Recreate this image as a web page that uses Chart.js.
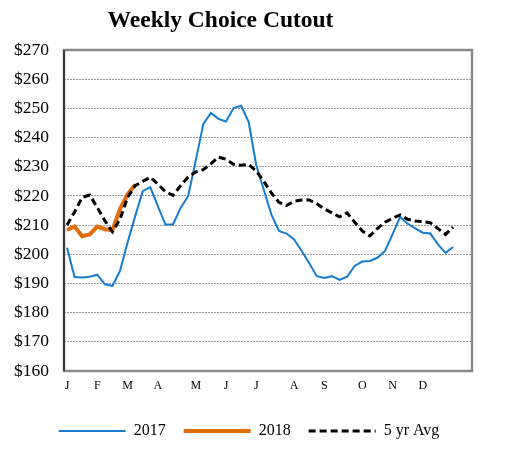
<!DOCTYPE html>
<html>
<head>
<meta charset="utf-8">
<script src="https://cdn.jsdelivr.net/npm/chart.js@4/dist/chart.umd.min.js"></script>
<style>
  body { margin: 0; background: #fff; }
  #wrap { position: relative; width: 507px; height: 455px; }
  #title {
    position: absolute; top: 8px; left: 0; width: 441px;
    text-align: center; font: bold 23.5px "Liberation Serif", serif; line-height: 1;
    color: #000;
  }
</style>
</head>
<body>
<div id="wrap">
  <canvas id="cutout" width="507" height="455"></canvas>
  <div id="title">Weekly Choice Cutout</div>
</div>
<script>
const monthLabels = ["J", "F", "M", "A", "M", "J", "J", "A", "S", "O", "N", "D"];
const monthWeeks = [0, 4, 8, 12, 17, 21, 25, 30, 34, 39, 43, 47];

const cutout2017 = [202.2, 192.2, 192, 192.3, 193, 189.7, 189.2, 194.3, 204, 213,
  221.6, 223, 216.5, 210.2, 210.2, 215.9, 219.9, 232, 244.6, 248.4,
  246.4, 245.5, 250.1, 250.9, 245.3, 230.5, 222, 213.6, 208, 207.1,
  205.1, 201.1, 196.9, 192.5, 191.9, 192.5, 191.2, 192.3, 196, 197.5,
  197.7, 198.8, 201.1, 206.8, 212.8, 210.5, 208.9, 207.4, 207.1, 203.4,
  200.5, 202.5];
const cutout2018 = [208.3, 209.5, 206.2, 206.8, 209.5, 208.6, 208.3, 215.5, 220.5, 223.8];
const avg5yr = [210, 214.5, 219.5, 220.3, 216, 211.5, 207.7, 212, 219.5, 223.5,
  225, 226.4, 224, 221.5, 220.2, 223.5, 226.5, 228.2, 229, 231,
  233.3, 232.6, 230.8, 230.5, 230.8, 228.5, 225, 221, 217.8, 216.7,
  218.2, 218.6, 218.6, 217.3, 215.5, 214.2, 212.8, 214.2, 211, 208,
  206.3, 208.8, 211, 212.3, 213.5, 212, 211.4, 211.2, 210.8, 208.8,
  206.8, 209.3];

const yMin = 160, yMax = 270, yStep = 10;
const weeks = cutout2017.map((_, i) => i);

const serif = "'Liberation Serif', 'Times New Roman', serif";

// frame round the plot area
const framePlugin = {
  id: "frame",
  afterDatasetsDraw(chart) {
    const { ctx, chartArea: a } = chart;
    ctx.save();
    ctx.strokeStyle = "#8a8a8a";
    ctx.lineWidth = 2.5;
    ctx.strokeRect(a.left, a.top, a.right - a.left, a.bottom - a.top);
    ctx.strokeStyle = "#3a3a3a";
    ctx.lineWidth = 2;
    ctx.beginPath();
    ctx.moveTo(a.left, a.top);
    ctx.lineTo(a.left, a.bottom);
    ctx.stroke();
    ctx.restore();
  }
};

new Chart(document.getElementById("cutout"), {
  type: "line",
  data: {
    labels: weeks,
    datasets: [
      { label: "2017", data: cutout2017, borderColor: "#177ccf", borderWidth: 2, order: 3 },
      { label: "2018", data: cutout2018, borderColor: "#e36c0a", borderWidth: 4, order: 2 },
      { label: "5 yr Avg", data: avg5yr, borderColor: "#000000", borderWidth: 3, borderDash: [7, 4], order: 1 }
    ]
  },
  options: {
    responsive: false,
    animation: false,
    devicePixelRatio: 1,
    layout: { padding: { left: 0, right: 9, top: 50, bottom: 6 } },
    elements: { point: { radius: 0 }, line: { tension: 0, fill: false } },
    scales: {
      x: {
        type: "linear",
        min: -0.4,
        max: 53.5,
        grid: { display: false, drawTicks: false },
        border: { display: false },
        afterBuildTicks: s => { s.ticks = monthWeeks.map(v => ({ value: v })); },
        afterFit: s => { s.height = 34; },
        ticks: {
          autoSkip: false,
          maxRotation: 0,
          padding: 8,
          color: "#000",
          font: { family: serif, size: 12 },
          callback: (v, i) => monthLabels[i]
        }
      },
      y: {
        min: yMin,
        max: yMax,
        afterFit: s => { s.width = 64; },
        grid: { color: "#9a9a9a", lineWidth: 1, drawTicks: false },
        border: { display: false, dash: [2, 1] },
        ticks: {
          stepSize: yStep,
          padding: 15,
          color: "#000",
          font: { family: serif, size: 17.5 },
          callback: v => "$" + v
        }
      },
      // empty margin on the right of the plot
      yRight: {
        position: "right",
        min: yMin,
        max: yMax,
        grid: { display: false, drawTicks: false },
        border: { display: false },
        ticks: { display: false },
        afterFit: s => { s.width = 26; }
      }
    },
    plugins: {
      title: { display: false },
      tooltip: { enabled: false },
      legend: {
        position: "bottom",
        labels: {
          usePointStyle: true,
          pointStyleWidth: 67,
          padding: 18,
          color: "#000",
          font: { family: serif, size: 16 },
          generateLabels: chart => chart.data.datasets.map((d, i) => ({
            text: d.label,
            strokeStyle: d.borderColor,
            fillStyle: d.borderColor,
            lineWidth: d.borderWidth,
            lineDash: d.borderDash || [],
            pointStyle: "line",
            datasetIndex: i
          }))
        }
      }
    }
  },
  plugins: [framePlugin]
});
</script>
</body>
</html>
